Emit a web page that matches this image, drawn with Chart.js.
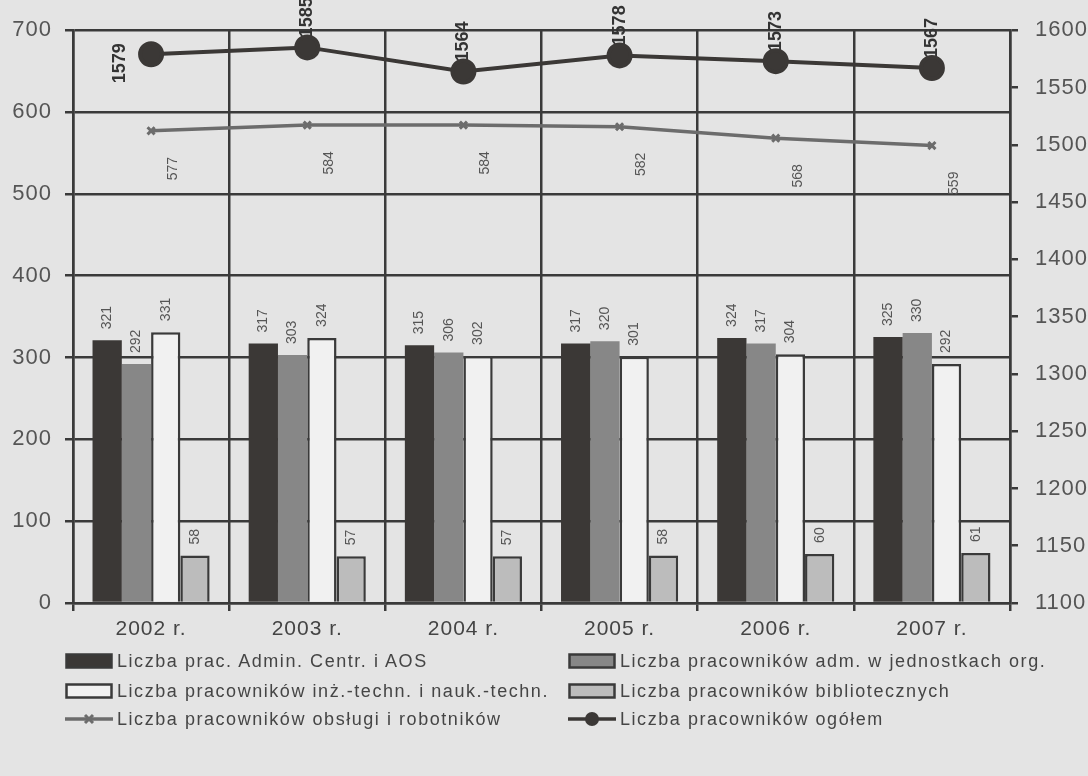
<!DOCTYPE html>
<html>
<head>
<meta charset="utf-8">
<script src="https://cdn.jsdelivr.net/npm/chart.js@4.4.1/dist/chart.umd.min.js"></script>
<style>
  body { margin: 0; background: #e4e4e4; font-family: "Liberation Sans", Arial, sans-serif; }
  #wrap { position: relative; width: 1088px; height: 776px; }
  #legend .item {
    position: absolute; display: flex; align-items: center; height: 20px;
    font-size: 18px; letter-spacing: 1.55px; color: #454545; white-space: nowrap;
  }
  #legend svg { margin-right: 4px; }
</style>
</head>
<body>
<div id="wrap">
  <canvas id="staffChart" width="1088" height="776"></canvas>
  <div id="legend"></div>
</div>
<script>
const years = ["2002 r.", "2003 r.", "2004 r.", "2005 r.", "2006 r.", "2007 r."];
const adminCentr = [321, 317, 315, 317, 324, 325];
const admJednostki = [292, 303, 306, 320, 317, 330];
const inzTechn = [331, 324, 302, 301, 304, 292];
const biblioteczni = [58, 57, 57, 58, 60, 61];
const obslugaRobotnicy = [577, 584, 584, 582, 568, 559];
const ogolem = [1579, 1585, 1564, 1578, 1573, 1567];

const INK = "#3b3836";
const LINE = "#3a3a3a";
const GREY_LINE = "#6c6c6c";
const FONT = "'Liberation Sans', Arial, sans-serif";

// draws a value rotated 90deg, reading bottom to top
function drawRotated(ctx, text, x, y, align) {
  ctx.save();
  ctx.translate(x, y);
  ctx.rotate(-Math.PI / 2);
  ctx.letterSpacing = "0px";
  ctx.textAlign = align;
  ctx.textBaseline = "middle";
  ctx.fillText(text, 0, 0);
  ctx.restore();
}

// wider tracking for the axis labels
const spacedText = {
  id: "spacedText",
  beforeDraw(chart) { chart.ctx.letterSpacing = "1px"; }
};

const valueLabels = {
  id: "valueLabels",
  beforeDatasetsDraw(chart) {
    const ctx = chart.ctx;
    chart.data.datasets.forEach((ds, di) => {
      if (ds.labelMode !== "above") return;
      const meta = chart.getDatasetMeta(di);
      ctx.font = "bold 18px " + FONT;
      ctx.fillStyle = "#333";
      meta.data.forEach((pt, i) => {
        if (i === 0) drawRotated(ctx, String(ds.data[i]), pt.x - 31, pt.y + 9, "center");
        else drawRotated(ctx, String(ds.data[i]), pt.x, pt.y - 10, "left");
      });
    });
  },
  afterDatasetsDraw(chart) {
    const ctx = chart.ctx;
    chart.data.datasets.forEach((ds, di) => {
      const meta = chart.getDatasetMeta(di);
      if (ds.labelMode === "bar") {
        ctx.font = "14px " + FONT;
        ctx.fillStyle = "#555";
        meta.data.forEach((bar, i) => drawRotated(ctx, String(ds.data[i]), bar.x, bar.y - 11, "left"));
      } else if (ds.labelMode === "below") {
        ctx.font = "14px " + FONT;
        ctx.fillStyle = "#555";
        meta.data.forEach((pt, i) => drawRotated(ctx, String(ds.data[i]), pt.x + 22, pt.y + 26, "right"));
      }
    });
  }
};

const barCommon = { categoryPercentage: 0.75, barPercentage: 1.0, yAxisID: "y", order: 2, labelMode: "bar" };

const chart = new Chart(document.getElementById("staffChart"), {
  type: "bar",
  data: {
    labels: years,
    datasets: [
      { ...barCommon, label: "Liczba prac. Admin. Centr. i AOS", data: adminCentr,
        backgroundColor: INK, borderWidth: 0, legendPos: [65, 651] },
      { ...barCommon, label: "Liczba pracowników adm. w jednostkach org.", data: admJednostki,
        backgroundColor: "#878787", borderWidth: 0, legendPos: [568, 651] },
      { ...barCommon, label: "Liczba pracowników inż.-techn. i nauk.-techn.", data: inzTechn,
        backgroundColor: "#f1f1f1", borderColor: LINE, borderWidth: 2.5, legendPos: [65, 681] },
      { ...barCommon, label: "Liczba pracowników bibliotecznych", data: biblioteczni,
        backgroundColor: "#bcbcbc", borderColor: LINE, borderWidth: 2.5, legendPos: [568, 681] },
      { type: "line", label: "Liczba pracowników obsługi i robotników", data: obslugaRobotnicy,
        yAxisID: "y", order: 1, labelMode: "below",
        borderColor: GREY_LINE, borderWidth: 3.5, pointStyle: "crossRot", pointRadius: 5,
        pointBorderWidth: 3, pointBorderColor: GREY_LINE, legendPos: [65, 709] },
      { type: "line", label: "Liczba pracowników ogółem", data: ogolem,
        yAxisID: "y1", order: 0, labelMode: "above",
        borderColor: INK, borderWidth: 4, pointStyle: "circle", pointRadius: 11,
        pointBackgroundColor: INK, pointBorderColor: INK, legendPos: [568, 709] }
    ]
  },
  options: {
    responsive: false,
    animation: false,
    layout: { padding: { top: 30, bottom: 120, left: 0, right: 0 } },
    plugins: { legend: { display: false }, tooltip: { enabled: false } },
    scales: {
      x: {
        afterFit: (s) => { s.height = 53; },
        grid: { offset: true, color: LINE, lineWidth: 2.5, tickLength: 8, tickColor: LINE },
        border: { color: LINE, width: 2.5 },
        ticks: { color: "#444", font: { size: 21, family: FONT }, padding: 6 }
      },
      y: {
        position: "left", min: 0, max: 700,
        afterFit: (s) => { s.width = 73; },
        grid: { color: LINE, lineWidth: 2.5, tickLength: 8, tickColor: LINE },
        border: { color: LINE, width: 2.5 },
        ticks: { stepSize: 100, color: "#555", padding: 13, font: { size: 22, family: FONT } }
      },
      y1: {
        position: "right", min: 1100, max: 1600,
        afterFit: (s) => { s.width = 78; },
        grid: { drawOnChartArea: false, tickLength: 8, color: LINE, lineWidth: 2.5 },
        border: { color: LINE, width: 2.5 },
        ticks: { stepSize: 50, color: "#555", padding: 17, font: { size: 22, family: FONT },
          callback: (v) => String(v) }
      }
    }
  },
  plugins: [spacedText, valueLabels]
});

// legend in two columns, built from the datasets
function swatch(ds) {
  if (ds.type === "line") {
    const marker = ds.pointStyle === "circle"
      ? `<circle cx="24" cy="10" r="7" fill="${ds.borderColor}"/>`
      : `<path d="M20 6 L28 14 M28 6 L20 14" stroke="${ds.borderColor}" stroke-width="3"/>`;
    return `<svg width="48" height="20"><line x1="0" y1="10" x2="48" y2="10" stroke="${ds.borderColor}" stroke-width="3.5"/>${marker}</svg>`;
  }
  const bc = ds.borderWidth ? ds.borderColor : LINE;
  return `<svg width="48" height="20"><rect x="1.5" y="3.5" width="45" height="13" fill="${ds.backgroundColor}" stroke="${bc}" stroke-width="2.5"/></svg>`;
}

const legend = document.getElementById("legend");
chart.data.datasets.forEach((ds) => {
  const el = document.createElement("div");
  el.className = "item";
  el.style.left = ds.legendPos[0] + "px";
  el.style.top = ds.legendPos[1] + "px";
  el.innerHTML = swatch(ds) + "<span>" + ds.label + "</span>";
  legend.appendChild(el);
});
</script>
</body>
</html>
